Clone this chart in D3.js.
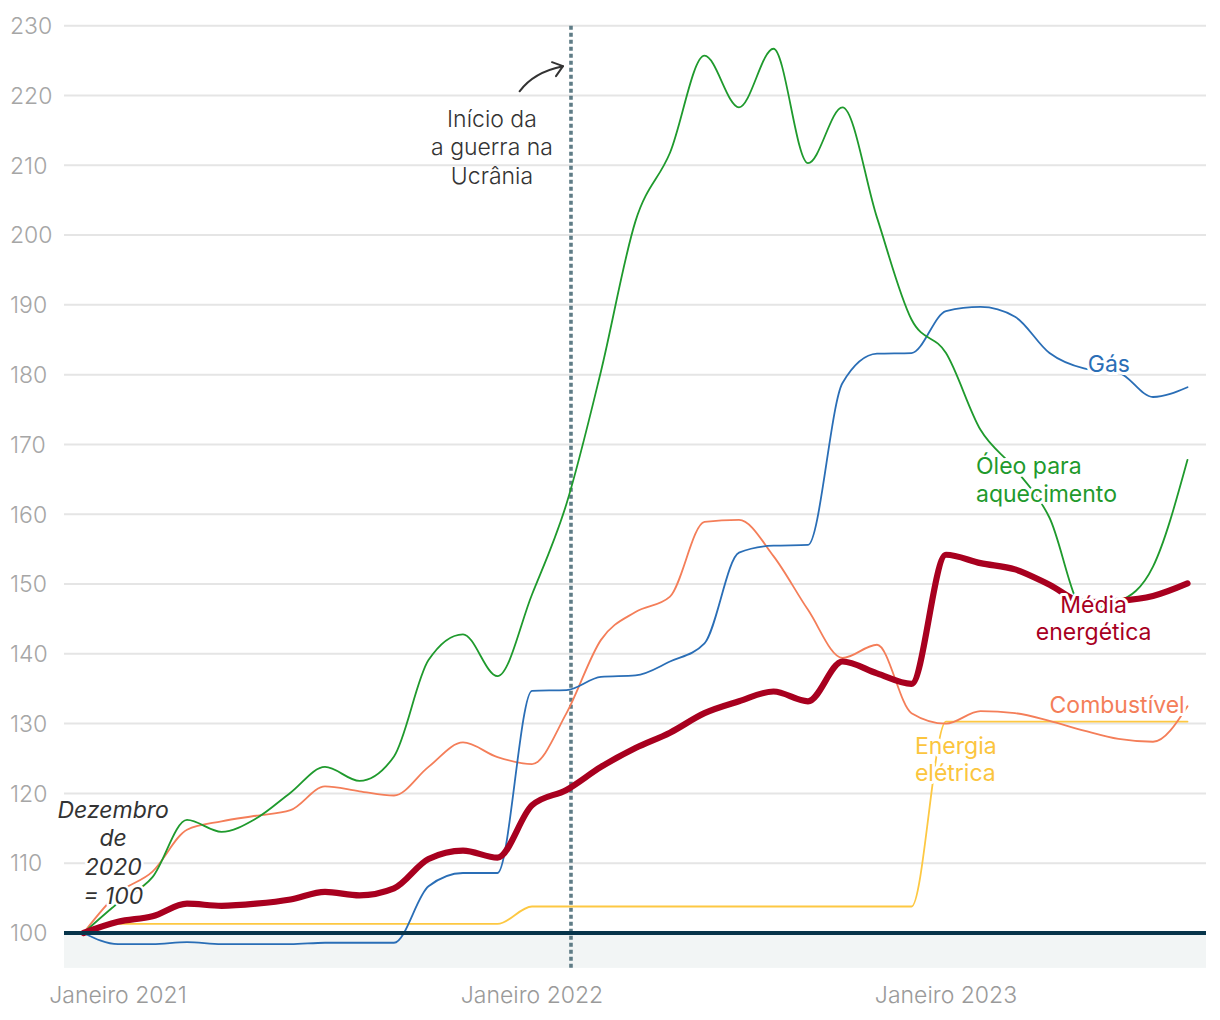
<!DOCTYPE html>
<html><head><meta charset="utf-8">
<script src="https://cdn.jsdelivr.net/npm/d3@7"></script>
<style>
html,body{margin:0;padding:0;background:#fff;}
svg{display:block;font-family:Inter,"Noto Sans",sans-serif;}
</style></head>
<body><svg id="c" width="1220" height="1020"></svg>
<script>
// month index 0 = Dezembro 2020 ... 32 = Agosto 2023
const months = d3.range(0, 33);
const gas = [100,98.4,98.4,98.7,98.4,98.4,98.4,98.6,98.6,98.6,106.7,108.6,108.6,134.7,134.8,136.7,136.9,138.9,141.5,154.5,155.5,155.6,178.8,183,183.1,189.1,189.7,188.3,183.1,180.9,180.3,176.8,178.2];
const oleo = [100,104.3,108,116.2,114.5,116.4,120.1,123.8,121.8,125.3,139.1,142.8,136.8,148.5,161.5,180.5,202,211.8,225.7,218.3,226.7,210.3,218.3,202.5,187.9,183.1,172.1,166.5,159.5,146.5,147.5,152.5,167.8];
const combustivel = [100,105.7,108.8,114.8,116,116.8,117.6,121,120.3,119.7,123.8,127.3,125.2,124.2,131.5,142,146,148.2,158.9,159.2,154,146.3,139.4,141.3,131.5,130,131.8,131.5,130.4,129,127.8,127.4,132.5];
const eletrica = [100,101.3,101.3,101.3,101.3,101.3,101.3,101.3,101.3,101.3,101.3,101.3,101.3,103.8,103.8,103.8,103.8,103.8,103.8,103.8,103.8,103.8,103.8,103.8,103.8,130.3,130.3,130.3,130.3,130.3,130.3,130.3,130.3];
const media = [100,101.6,102.4,104.2,103.9,104.2,104.8,105.9,105.4,106.4,110.6,111.8,110.8,118.3,120.5,123.8,126.5,128.7,131.5,133.2,134.6,133.2,138.9,137.2,135.7,154.2,153,152.1,149.9,147.4,147.6,148.3,150.1];
const yTicks = [100,110,120,130,140,150,160,170,180,190,200,210,220,230];
const xTickMonths = [1,13,25];
const xTickLabels = ["Janeiro 2021","Janeiro 2022","Janeiro 2023"];
const warMonth = 14.13;

const series = [
  {name:"eletrica", values:eletrica, color:"#fdc842", width:1.8},
  {name:"combustivel", values:combustivel, color:"#f47e59", width:1.8},
  {name:"gas", values:gas, color:"#2a6eb6", width:1.8},
  {name:"oleo", values:oleo, color:"#1f9a2d", width:1.8},
  {name:"media", values:media, color:"#a8001f", width:6.2}
];

const labels = [
  {lines:["Gás"], m:29.72, v:[181.5], color:"#2a6eb6", anchor:"middle"},
  {lines:["Óleo para","aquecimento"], m:25.87, v:[166.9,162.9], color:"#1f9a2d", anchor:"start"},
  {lines:["Média","energética"], m:29.28, v:[147.1,143.1], color:"#a8001f", anchor:"middle"},
  {lines:["Combustível"], m:29.96, v:[132.7], color:"#f47e59", anchor:"middle"},
  {lines:["Energia","elétrica"], m:24.1, v:[126.9,123.0], color:"#fbc53e", anchor:"start"}
];

const svg = d3.select("#c");
const plotL = 64, plotR = 1206;
const x = d3.scaleLinear().domain([0,32]).range([83.5,1187.5]);
const y = d3.scaleLinear().domain([100,230]).range([933,25.7]);
const FS = 23;

// shaded band below 100
svg.append("rect").attr("x",plotL).attr("width",plotR-plotL)
  .attr("y",y(100)).attr("height",y(95)-y(100)).attr("fill","#f2f5f5");

// gridlines
svg.append("g").selectAll("line").data(yTicks.filter(d=>d>100)).join("line")
  .attr("x1",plotL).attr("x2",plotR).attr("y1",d=>y(d)).attr("y2",d=>y(d))
  .attr("stroke","#e5e5e5").attr("stroke-width",2);

// y tick labels
svg.append("g").selectAll("text").data(yTicks).join("text")
  .attr("x",10).attr("y",d=>y(d)).attr("dy","0.36em")
  .attr("fill","#a6a6a6").attr("font-size",FS).attr("font-weight",300)
  .text(d=>d);

// x tick labels
svg.append("g").selectAll("text").data(xTickMonths).join("text")
  .attr("x",d=>x(d)).attr("y",995).attr("dy","0.36em").attr("text-anchor","middle")
  .attr("fill","#9a9a9a").attr("font-size",FS).attr("font-weight",300)
  .text((d,i)=>xTickLabels[i]);

// war line
svg.append("line").attr("x1",x(warMonth)).attr("x2",x(warMonth))
  .attr("y1",y(230)).attr("y2",y(95))
  .attr("stroke","#5f7c86").attr("stroke-width",3.6).attr("stroke-dasharray","4 3");

// lines
const line = d3.line().x((d,i)=>x(months[i])).y(d=>y(d)).curve(d3.curveMonotoneX);
svg.append("g").selectAll("path").data(series).join("path")
  .attr("d",d=>line(d.values)).attr("fill","none")
  .attr("stroke",d=>d.color).attr("stroke-width",d=>d.width)
  .attr("stroke-linejoin","round").attr("stroke-linecap","round");

// baseline 100
svg.append("line").attr("x1",plotL).attr("x2",plotR).attr("y1",y(100)).attr("y2",y(100))
  .attr("stroke","#07344a").attr("stroke-width",4);

// series labels
const lg = svg.append("g");
labels.forEach(l=>{
  l.lines.forEach((t,i)=>{
    lg.append("text").attr("x",x(l.m)).attr("y",y(l.v[i])).attr("dy","0.36em")
      .attr("text-anchor",l.anchor).attr("fill",l.color).attr("font-size",FS)
      .attr("stroke","#fff").attr("stroke-width",6).attr("stroke-linejoin","round")
      .attr("paint-order","stroke").text(t);
  });
});

// base note
const noteLines = ["Dezembro","de","2020","= 100"];
const noteVals = [117.6,113.6,109.5,105.3];
noteLines.forEach((t,i)=>{
  svg.append("text").attr("x",x(0.86)).attr("y",y(noteVals[i])).attr("dy","0.36em")
    .attr("text-anchor","middle").attr("fill","#333").attr("font-size",FS)
    .attr("font-style","italic")
    .attr("stroke","#fff").attr("stroke-width",5).attr("stroke-linejoin","round")
    .attr("paint-order","stroke").text(t);
});

// war annotation
const warLines = ["Início da","a guerra na","Ucrânia"];
const warVals = [216.7,212.7,208.5];
warLines.forEach((t,i)=>{
  svg.append("text").attr("x",x(11.84)).attr("y",y(warVals[i])).attr("dy","0.36em")
    .attr("text-anchor","middle").attr("fill","#333").attr("font-size",FS).attr("font-weight",300)
    .text(t);
});
// arrow
const tipX = x(warMonth)-8, tipY = y(224.2);
const tailX = x(12.64), tailY = y(220.6);
svg.append("path")
  .attr("d",`M${tailX},${tailY} Q${tailX+14},${tipY+6} ${tipX},${tipY}`)
  .attr("fill","none").attr("stroke","#333").attr("stroke-width",2).attr("stroke-linecap","round");
svg.append("path")
  .attr("d",`M${tipX-11},${tipY-4} L${tipX},${tipY} L${tipX-7},${tipY+10}`)
  .attr("fill","none").attr("stroke","#333").attr("stroke-width",2)
  .attr("stroke-linecap","round").attr("stroke-linejoin","round");
</script></body></html>
